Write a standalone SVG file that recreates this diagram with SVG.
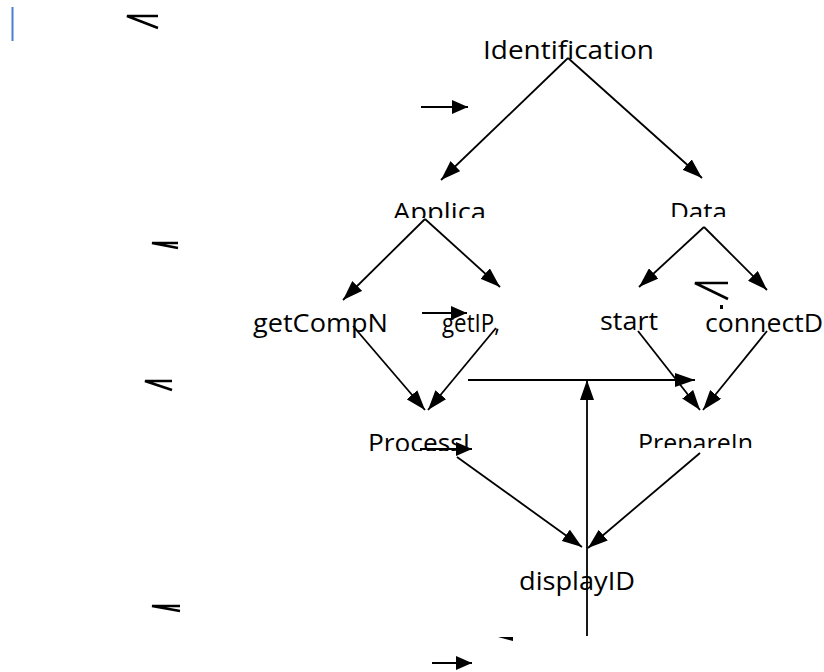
<svg xmlns="http://www.w3.org/2000/svg" width="824" height="672" viewBox="0 0 824 672">
  <defs>
    <style>
      .lbl { font-family: "Open Sans", "Liberation Sans", sans-serif; font-size: 26px; fill: #000; }
      .edge { stroke: #000; stroke-width: 1.8; fill: none; }
      .mark { stroke: #000; stroke-width: 2.6; fill: none; stroke-linecap: butt; }
    </style>
    <marker id="head" viewBox="0 0 20 14" refX="20" refY="7" markerWidth="20" markerHeight="14" markerUnits="userSpaceOnUse" orient="auto">
      <path d="M0,0 L20,7 L0,14 Z" fill="#000"/>
    </marker>
    <marker id="headS" viewBox="0 0 16 14" refX="16" refY="7" markerWidth="16" markerHeight="14" markerUnits="userSpaceOnUse" orient="auto">
      <path d="M0,0 L16,7 L0,14 Z" fill="#000"/>
    </marker>
    <clipPath id="clipApplica"><rect x="380" y="190" width="120" height="28"/></clipPath>
    <clipPath id="clipData"><rect x="660" y="190" width="80" height="27"/></clipPath>
    <clipPath id="clipProcess"><rect x="360" y="420" width="120" height="31"/></clipPath>
    <clipPath id="clipPrepare"><rect x="630" y="420" width="140" height="28"/></clipPath>
  </defs>

  <rect width="824" height="672" fill="#fff"/>

  <!-- text cursor -->
  <line x1="12.5" y1="7" x2="12.5" y2="41" stroke="#4a7fd0" stroke-width="2"/>

  <!-- loose strokes -->
  <g id="strokes">
    <path class="mark" d="M158,16 L127,16 L158,28"/>
    <path class="mark" d="M178,243 L152,243 L178,248"/>
    <path class="mark" d="M172,381 L145,381 L172,390"/>
    <path class="mark" d="M180,606 L152,606 L180,611"/>
    <path class="mark" d="M728,283 L695,283 L728,299"/>
    <rect x="720" y="305" width="3" height="4" fill="#000"/>
    <path d="M498,637 L513,637 L513,641 Z" fill="#000"/>
  </g>

  <g id="node-identification"><text class="lbl" x="483" y="59" textLength="171" lengthAdjust="spacingAndGlyphs">Identification</text></g>
  <g id="node-applica"><text class="lbl" x="393" y="221" textLength="93" lengthAdjust="spacingAndGlyphs" clip-path="url(#clipApplica)">Applica</text></g>
  <g id="node-data"><text class="lbl" x="670" y="221" textLength="57" lengthAdjust="spacingAndGlyphs" clip-path="url(#clipData)">Data</text></g>
  <g id="node-getcompn"><text class="lbl" x="253" y="332" textLength="135" lengthAdjust="spacingAndGlyphs">getCompN</text></g>
  <g id="node-getip"><text class="lbl" x="442" y="332" textLength="58" lengthAdjust="spacingAndGlyphs">getIP,</text></g>
  <g id="node-start"><text class="lbl" x="600" y="330" textLength="58" lengthAdjust="spacingAndGlyphs">start</text></g>
  <g id="node-connectd"><text class="lbl" x="705" y="332" textLength="118" lengthAdjust="spacingAndGlyphs">connectD</text></g>
  <g id="node-processi"><text class="lbl" x="368" y="452" textLength="102" lengthAdjust="spacingAndGlyphs" clip-path="url(#clipProcess)">ProcessI</text></g>
  <g id="node-preparein"><text class="lbl" x="638" y="452" textLength="115" lengthAdjust="spacingAndGlyphs" clip-path="url(#clipPrepare)">PrepareIn</text></g>
  <g id="node-displayid"><text class="lbl" x="519" y="590" textLength="116" lengthAdjust="spacingAndGlyphs">displayID</text></g>

  <g id="connectors">
    <line class="edge" x1="568" y1="58" x2="441" y2="180" marker-end="url(#head)"/>
    <line class="edge" x1="568" y1="58" x2="702" y2="178" marker-end="url(#head)"/>
    <line class="edge" x1="425" y1="219" x2="343" y2="300" marker-end="url(#head)"/>
    <line class="edge" x1="425" y1="219" x2="500" y2="287" marker-end="url(#head)"/>
    <line class="edge" x1="704" y1="227" x2="639" y2="287" marker-end="url(#head)"/>
    <line class="edge" x1="704" y1="227" x2="767" y2="290" marker-end="url(#head)"/>
    <line class="edge" x1="353" y1="326" x2="425" y2="410" marker-end="url(#head)"/>
    <line class="edge" x1="496" y1="328" x2="428" y2="410" marker-end="url(#head)"/>
    <line class="edge" x1="638" y1="331" x2="700" y2="410" marker-end="url(#head)"/>
    <line class="edge" x1="767" y1="331" x2="703" y2="410" marker-end="url(#head)"/>
    <line class="edge" x1="468" y1="380" x2="695" y2="380" marker-end="url(#head)"/>
    <line class="edge" x1="587" y1="636" x2="587" y2="380" marker-end="url(#head)"/>
    <line class="edge" x1="457" y1="457" x2="582" y2="547" marker-end="url(#head)"/>
    <line class="edge" x1="700" y1="453" x2="588" y2="548" marker-end="url(#head)"/>
    <line class="edge" x1="421" y1="107" x2="468" y2="107" marker-end="url(#headS)"/>
    <line class="edge" x1="422" y1="313" x2="467" y2="313" marker-end="url(#headS)"/>
    <line class="edge" x1="420" y1="449" x2="472" y2="449" marker-end="url(#headS)"/>
    <line class="edge" x1="432" y1="663" x2="472" y2="663" marker-end="url(#headS)"/>
  </g>
</svg>
